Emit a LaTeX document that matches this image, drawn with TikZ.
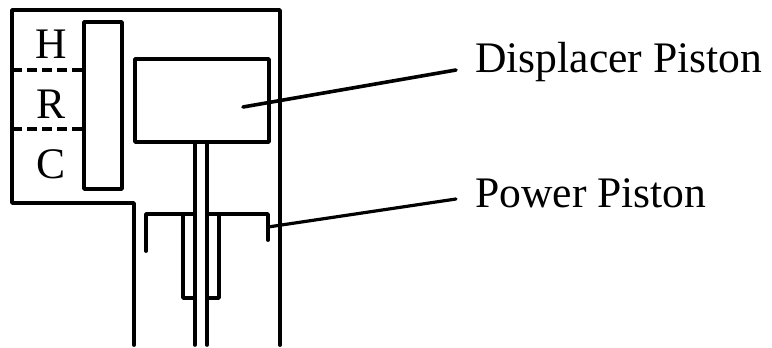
\documentclass[tikz,border=0pt]{standalone}
\usepackage{fontspec}
\setmainfont{Liberation Serif}
\tikzset{
  part/.style={draw=black,line width=3.8pt,line cap=round,line join=round},
  rodline/.style={draw=black,line width=3.6pt,line cap=round,line join=round},
  sep/.style={draw=black,line width=3.2pt,dash pattern=on 10pt off 5pt},
  box/.style={part,inner sep=0pt,outer sep=0pt,anchor=north west},
  lbl/.style={inner sep=0pt,anchor=base,font=\fontsize{43.6}{48}\selectfont},
  lbll/.style={lbl,anchor=base west}
}
\begin{document}
\begin{tikzpicture}[x=1pt,y=-1pt]
\useasboundingbox (0,0) rectangle (772,348);
% housing
\draw[part] (134,345) -- (134,203) -- (12,203) -- (12,10) -- (280,10) -- (280,345);
% regenerator tube
\node[box,minimum width=38pt,minimum height=167pt] (tube) at (84,22) {};
% displacer
\node[box,minimum width=134pt,minimum height=83pt] (disp) at (135,59) {};
% zone separators
\coordinate (s1a) at (12,70); \coordinate (s1b) at (83,70);
\coordinate (s2a) at (12,129); \coordinate (s2b) at (83,129);
\draw[sep] (s1a) -- (s1b);
\draw[sep] (s2a) -- (s2b);
% rod
\draw[rodline] (195,142) -- (195,345);
\draw[rodline] (207,142) -- (207,345);
% power piston
\draw[part] (146,251) -- (146,214) -- (195,214);
\draw[part] (207,214) -- (268,214) -- (268,240);
\draw[rodline] (183,214) -- (183,298) -- (195,298);
\draw[rodline] (219,214) -- (219,298) -- (207,298);
% labels
\node[lbl] (H) at (51,58) {H};
\node[lbl] (R) at (51,118) {R};
\node[lbl] (C) at (51,178) {C};
\node[lbll] (dl) at (475,72) {Displacer Piston};
\node[lbll] (pl) at (475,207) {Power Piston};
% leaders
\coordinate (d0) at (243,107); \coordinate (d1) at (456,70);
\coordinate (p0) at (268,227); \coordinate (p1) at (456,199);
\draw[rodline] (d0) -- (d1);
\draw[rodline,line width=3.2pt] (p0) -- (p1);
\end{tikzpicture}
\end{document}
